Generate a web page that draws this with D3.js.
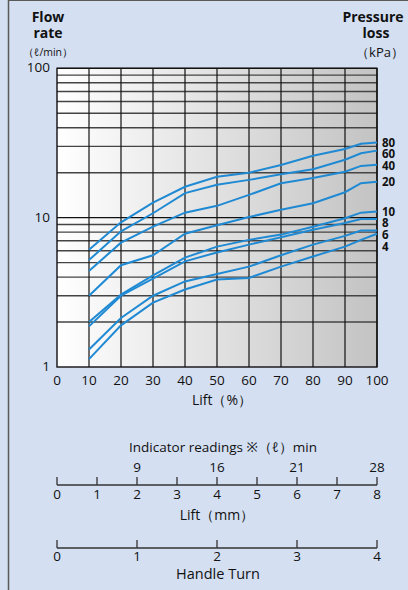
<!DOCTYPE html>
<html>
<head>
<meta charset="utf-8">
<script src="https://cdn.jsdelivr.net/npm/d3@7"></script>
<style>
	body { margin: 0; background: #d4dff1; }
	svg { display: block; font-family: "Open Sans", "Noto Sans", sans-serif; }
</style>
</head>
<body>
<div id="chart"></div>
<script>
// lift (%) where the curves were read
var lift = [10, 20, 30, 40, 50, 60, 70, 80, 90, 95, 100];
// pressure loss of each curve (kPa)
var pressureLoss = [80, 60, 40, 20, 10, 8, 6, 4];
// flow rate (l/min) of each curve
var flow80 = [6.1, 9.3, 12.6, 16.1, 18.8, 20.0, 22.5, 26.0, 28.8, 31.2, 31.8];
var flow60 = [5.2, 8.1, 10.7, 14.6, 16.6, 17.9, 19.5, 21.1, 24.4, 27.0, 28.1];
var flow40 = [4.4, 6.8, 8.7, 10.8, 12.0, 14.2, 17.0, 18.4, 20.3, 22.2, 22.6];
var flow20 = [3.0, 4.8, 5.6, 7.8, 8.9, 10.1, 11.3, 12.5, 14.8, 17.0, 17.4];
var flow10 = [2.0, 3.05, 4.1, 5.4, 6.4, 7.1, 7.7, 8.7, 9.9, 10.8, 11.0];
var flow8 = [1.87, 3.0, 3.9, 5.1, 5.85, 6.6, 7.4, 8.3, 9.2, 9.8, 9.8];
var flow6 = [1.31, 2.13, 3.0, 3.74, 4.2, 4.7, 5.6, 6.6, 7.55, 8.2, 8.2];
var flow4 = [1.13, 1.9, 2.7, 3.3, 3.85, 3.95, 4.7, 5.5, 6.4, 7.1, 7.8];
var flows = [flow80, flow60, flow40, flow20, flow10, flow8, flow6, flow4];

// tick labels
var liftTicks = [0, 10, 20, 30, 40, 50, 60, 70, 80, 90, 100];
var flowTicks = [1, 10, 100];
var liftMm = [0, 1, 2, 3, 4, 5, 6, 7, 8];
var indicatorMm = [2, 4, 6, 8];
var indicatorReadings = [9, 16, 21, 28];
var handleTurns = [0, 1, 2, 3, 4];

var width = 408, height = 590;
var plotL = 57, plotR = 377, plotT = 68.3, plotB = 367;

var svg = d3.select("#chart").append("svg")
	.attr("width", width)
	.attr("height", height);

svg.append("rect").attr("width", width).attr("height", height).attr("fill", "#d4dff1");
svg.append("line").attr("x1", 8.5).attr("x2", 8.5).attr("y1", 0).attr("y2", height)
	.attr("stroke", "#5a5a5a").attr("stroke-width", 1.5);
svg.append("line").attr("x1", 8).attr("x2", width).attr("y1", 0.5).attr("y2", 0.5)
	.attr("stroke", "#5a5a5a").attr("stroke-width", 1);

var grad = svg.append("defs").append("linearGradient").attr("id", "bg")
	.attr("x1", "0").attr("x2", "1").attr("y1", "0").attr("y2", "0");
grad.append("stop").attr("offset", "0").attr("stop-color", "#ffffff");
grad.append("stop").attr("offset", "1").attr("stop-color", "#c3c3c3");

var x = d3.scaleLinear().domain([0, 100]).range([plotL, plotR]);
var y = d3.scaleLog().domain([1, 100]).range([plotB, plotT]);

svg.append("rect")
	.attr("x", plotL).attr("y", plotT)
	.attr("width", plotR - plotL).attr("height", plotB - plotT)
	.attr("fill", "url(#bg)");

// horizontal grid (log minor + major)
var hLines = [];
[1, 10].forEach(function(d) {
	for (var k = 2; k <= 10; k++) hLines.push(d * k);
});
svg.append("g").selectAll("line").data(hLines).enter().append("line")
	.attr("x1", plotL).attr("x2", plotR)
	.attr("y1", function(d) { return y(d); })
	.attr("y2", function(d) { return y(d); })
	.attr("stroke", function(d) { return (d == 10 || d == 100) ? "#111" : "#444"; })
	.attr("stroke-width", function(d) { return (d == 10 || d == 100) ? 1.2 : 1.4; });

// vertical grid
svg.append("g").selectAll("line").data(liftTicks.slice(1)).enter().append("line")
	.attr("x1", function(d) { return x(d); })
	.attr("x2", function(d) { return x(d); })
	.attr("y1", plotT).attr("y2", plotB)
	.attr("stroke", "#111").attr("stroke-width", 1.2);

svg.append("rect")
	.attr("x", plotL).attr("y", plotT)
	.attr("width", plotR - plotL).attr("height", plotB - plotT)
	.attr("fill", "none").attr("stroke", "#111").attr("stroke-width", 1.4);

// curves
var line = d3.line()
	.x(function(d, i) { return x(lift[i]); })
	.y(function(d) { return y(d); });

svg.append("g").selectAll("path").data(flows).enter().append("path")
	.attr("d", line)
	.attr("fill", "none")
	.attr("stroke", "#1f8ad3")
	.attr("stroke-width", 2);

// curve labels, dodged so they don't overlap
var labelY = [];
var prev = -1e9;
flows.forEach(function(f) {
	var yy = Math.max(y(f[f.length - 1]), prev + 11.7);
	labelY.push(yy);
	prev = yy;
});
svg.append("g").selectAll("text").data(pressureLoss).enter().append("text")
	.attr("x", 382)
	.attr("y", function(d, i) { return labelY[i]; })
	.attr("dy", "0.36em")
	.attr("font-size", 11.5)
	.attr("font-weight", "bold")
	.attr("fill", "#111")
	.text(function(d) { return d; });

// y tick labels
svg.append("g").selectAll("text").data(flowTicks).enter().append("text")
	.attr("x", 50)
	.attr("y", function(d) { return y(d); })
	.attr("dy", "0.3em")
	.attr("text-anchor", "end")
	.attr("font-size", 13.5)
	.attr("fill", "#111")
	.text(function(d) { return d; });

// x tick labels
svg.append("g").selectAll("text").data(liftTicks).enter().append("text")
	.attr("x", function(d) { return x(d); })
	.attr("y", 385)
	.attr("text-anchor", "middle")
	.attr("font-size", 13.5)
	.attr("fill", "#111")
	.text(function(d) { return d; });

svg.append("text").attr("x", 222).attr("y", 405).attr("text-anchor", "middle")
	.attr("font-size", 14).attr("fill", "#111").text("Lift（%）");

// titles
var t1 = svg.append("g").attr("fill", "#111").attr("text-anchor", "middle");
t1.append("text").attr("x", 48).attr("y", 22).attr("font-size", 14).attr("font-weight", "bold").text("Flow");
t1.append("text").attr("x", 48).attr("y", 38).attr("font-size", 14).attr("font-weight", "bold").text("rate");
t1.append("text").attr("x", 48).attr("y", 56).attr("font-size", 10.5).text("（ℓ/min）");
t1.append("text").attr("x", 373).attr("y", 22).attr("font-size", 14).attr("font-weight", "bold").text("Pressure");
t1.append("text").attr("x", 376).attr("y", 38).attr("font-size", 14).attr("font-weight", "bold").text("loss");
t1.append("text").attr("x", 380).attr("y", 57).attr("font-size", 13).text("（kPa）");

// lift (mm) scale with indicator readings
var xmm = d3.scaleLinear().domain([0, 8]).range([plotL, plotR]);
var s1 = svg.append("g").attr("fill", "#111");
s1.append("text").attr("x", 223).attr("y", 452).attr("text-anchor", "middle")
	.attr("font-size", 13.5).text("Indicator readings ※（ℓ）min");
s1.append("line").attr("x1", xmm(0)).attr("x2", xmm(8)).attr("y1", 485).attr("y2", 485)
	.attr("stroke", "#333").attr("stroke-width", 1.3);
s1.selectAll(".tk").data(liftMm).enter().append("line")
	.attr("x1", function(d) { return xmm(d); })
	.attr("x2", function(d) { return xmm(d); })
	.attr("y1", 477).attr("y2", 485)
	.attr("stroke", "#333").attr("stroke-width", 1.3);
s1.selectAll(".lb").data(liftMm).enter().append("text")
	.attr("x", function(d) { return xmm(d); })
	.attr("y", 499)
	.attr("text-anchor", "middle").attr("font-size", 13.5)
	.text(function(d) { return d; });
s1.selectAll(".ir").data(indicatorReadings).enter().append("text")
	.attr("x", function(d, i) { return xmm(indicatorMm[i]); })
	.attr("y", 472)
	.attr("text-anchor", "middle").attr("font-size", 13.5)
	.text(function(d) { return d; });
s1.append("text").attr("x", 217).attr("y", 520).attr("text-anchor", "middle")
	.attr("font-size", 14).text("Lift（mm）");

// handle turn scale
var xt = d3.scaleLinear().domain([0, 4]).range([plotL, plotR]);
var s2 = svg.append("g").attr("fill", "#111");
s2.append("line").attr("x1", xt(0)).attr("x2", xt(4)).attr("y1", 548).attr("y2", 548)
	.attr("stroke", "#333").attr("stroke-width", 1.3);
s2.selectAll(".tk").data(handleTurns).enter().append("line")
	.attr("x1", function(d) { return xt(d); })
	.attr("x2", function(d) { return xt(d); })
	.attr("y1", 540).attr("y2", 548)
	.attr("stroke", "#333").attr("stroke-width", 1.3);
s2.selectAll(".lb").data(handleTurns).enter().append("text")
	.attr("x", function(d) { return xt(d); })
	.attr("y", 561)
	.attr("text-anchor", "middle").attr("font-size", 13.5)
	.text(function(d) { return d; });
s2.append("text").attr("x", 218).attr("y", 579).attr("text-anchor", "middle")
	.attr("font-size", 14.5).text("Handle Turn");
</script>
</body>
</html>
